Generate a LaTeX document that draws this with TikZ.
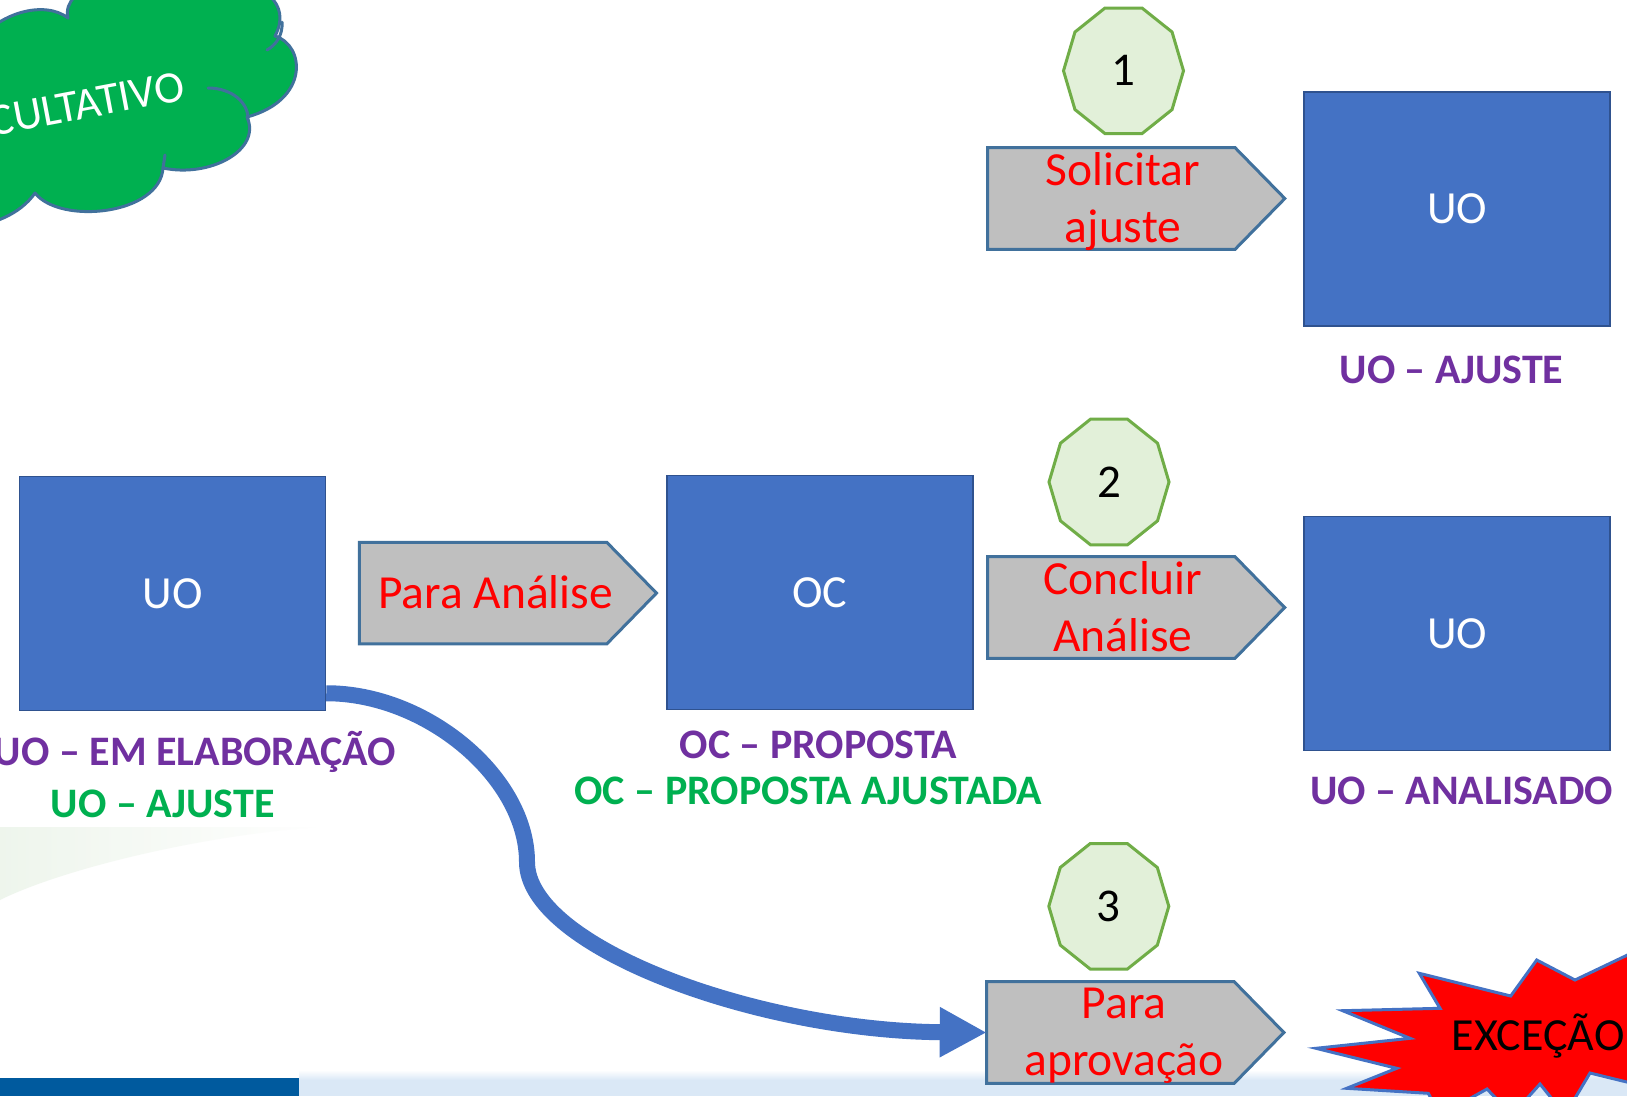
\documentclass[tikz,border=0pt]{standalone}
\usepackage{fontspec}
\setmainfont{Carlito}
\usetikzlibrary{arrows.meta}
\definecolor{boxblue}{HTML}{4472C4}
\definecolor{boxline}{HTML}{2F528F}
\definecolor{pentgray}{HTML}{BFBFBF}
\definecolor{pentline}{HTML}{41719C}
\definecolor{decafill}{HTML}{E2F0D9}
\definecolor{decaline}{HTML}{70AD47}
\definecolor{actred}{HTML}{FF0000}
\definecolor{lblpurple}{HTML}{7030A0}
\definecolor{lblgreen}{HTML}{00B050}
\definecolor{cloudgreen}{HTML}{00B050}
\definecolor{cloudline}{HTML}{41719C}
\definecolor{curveblue}{HTML}{4472C4}
\definecolor{bardark}{HTML}{005A9E}
\definecolor{barlight}{HTML}{DAE8F6}
\definecolor{burstline}{HTML}{4472C4}
\definecolor{wmgreen}{HTML}{E3EFE0}
\newcommand\mypent[3]{%
  \draw[pent] (#2,#3) -- ++(247.5,0) -- ++(49.7,50.8) -- ++(-49.7,50.8) -- ++(-247.5,0) -- cycle;
  \coordinate (#1) at (#2,#3+50.8);}
\newcommand\mydeca[4]{%
  \draw[deca] ({#2+60},#3) \foreach \k in {1,...,9}{ -- ({#2+60*cos(\k*36)},{#3+66*sin(\k*36)}) } -- cycle;
  \node[numtxt] (#1) at (#2,#3) {#4};}
\begin{document}
\begin{tikzpicture}[x=1pt,y=-1pt,
  box/.style={draw=boxline, fill=boxblue, line width=1.5pt, minimum width=306pt, minimum height=234pt, inner sep=0pt, text=white, font=\fontsize{46}{56}\selectfont},
  pent/.style={draw=pentline, fill=pentgray, line width=3pt, line join=miter},
  deca/.style={draw=decaline, fill=decafill, line width=3pt},
  numtxt/.style={font=\fontsize{47}{56}\selectfont, text=black, inner sep=0pt},
  acttxt/.style={font=\fontsize{47.5}{56.5}\selectfont, text=actred, inner sep=0pt, anchor=base},
  lbl/.style={font=\fontsize{42}{50}\selectfont\bfseries, inner sep=0pt, anchor=base},
  conn/.style={draw=curveblue, line width=16pt, -{Triangle[length=47pt,width=47pt]}},
  cloudshape/.style={fill=cloudgreen, draw=cloudline, line width=3pt, line join=round},
  cloudarc/.style={draw=cloudline, line width=3pt, line cap=round},
  burst/.style={fill=red, draw=burstline, line width=3pt, line join=miter}]
\useasboundingbox (0,0) rectangle (1627,1096);
\clip (0,0) rectangle (1627,1096);
\fill[white] (0,0) rectangle (1627,1096);
% faint watermark
\shade[left color=wmgreen, right color=white, opacity=0.6] (0,827) -- (321,827) .. controls (200,835) and (60,870) .. (0,900) -- cycle;
% bottom bars
\shade[top color=white, bottom color=barlight] (299,1070) rectangle (1627,1080);
\fill[barlight] (299,1080) rectangle (1627,1096);
\fill[bardark] (0,1078) rectangle (299,1096);
% cloud
\path[cloudshape] (-25,45) .. controls (-2,12) and (45,0) .. (68,18)
  .. controls (60,-15) and (130,-30) .. (138,-2)
  .. controls (150,-45) and (310,-30) .. (275,36)
  .. controls (305,45) and (310,100) .. (247,117)
  .. controls (262,150) and (210,178) .. (163,168)
  .. controls (160,215) and (60,225) .. (35,193)
  .. controls (20,215) and (-10,225) .. (-25,225) -- cycle;
\draw[cloudarc] (282,22) .. controls (283,35) and (276,45) .. (267,50);
\draw[cloudarc] (208,88) .. controls (232,88) and (249,103) .. (248,120);
\draw[cloudarc] (165,155) -- (163,168);
\node[font=\fontsize{45}{54}\selectfont, text=white, inner sep=0pt, anchor=base, rotate=10.7] (cloudtxt) at (68,122) {FACULTATIVO};
% boxes
\node[box] (uoTop) at (1457,209) {UO};
\node[box] (uoL) at (172.5,593.5) {UO};
\node[box] (oc) at (820,592.5) {OC};
\node[box] (uoR) at (1457,633.5) {UO};
% pentagons
\mypent{solW}{987.6}{147.7}
\mypent{anaW}{359.3}{542.3}
\mypent{concW}{987.5}{556.7}
\mypent{aprovW}{986.7}{981.7}
\node[acttxt] (solT) at (1123,185.5) {\begin{tabular}[t]{@{}c@{}}Solicitar\\ajuste\end{tabular}};
\node[acttxt] (anaT) at (495.5,608.5) {Para Análise};
\node[acttxt] (concT) at (1123,594.5) {\begin{tabular}[t]{@{}c@{}}Concluir\\Análise\end{tabular}};
\node[acttxt] (aprovT) at (1124,1018.5) {\begin{tabular}[t]{@{}c@{}}Para\\aprovação\end{tabular}};
% decagons
\mydeca{n1}{1123.5}{70.8}{1}
\mydeca{n2}{1109}{482}{2}
\mydeca{n3}{1108.8}{906.3}{3}
% labels
\node[lbl, text=lblpurple] (lblTop) at (1451.5,383) {UO – AJUSTE};
\node[lbl, text=lblpurple] (lblL1) at (195,765) {UO – EM ELABORAÇÃO};
\node[lbl, text=lblgreen] (lblL2) at (162.7,817.7) {UO – AJUSTE};
\node[lbl, text=lblpurple] (lblOC1) at (818.5,758.3) {OC – PROPOSTA};
\node[lbl, text=lblgreen] (lblOC2) at (808.5,804) {OC – PROPOSTA AJUSTADA};
\node[lbl, text=lblpurple] (lblR) at (1461.5,804) {UO – ANALISADO};
% curved connector
\coordinate (bendpt) at (527,862);
\draw[conn] ([yshift=18pt]uoL.south east) .. controls (426.5,693) and (527,777.5) .. (bendpt) .. controls (527,946.5) and (757,1031) .. (aprovW);
% starburst
\path[burst] (1680,930) -- (1575,980) -- (1536.7,960) -- (1510.7,996) -- (1419.3,973.3) -- (1440,1008.3)
  -- (1342.7,1010.7) -- (1410,1038.3) -- (1316,1048.3) -- (1396.7,1068.3) -- (1346.7,1088.3)
  -- (1428.3,1093.3) -- (1440,1115) -- (1487,1089) -- (1512,1115) -- (1540,1084) -- (1565,1115)
  -- (1590,1073) -- (1680,1095) -- cycle;
\node[font=\fontsize{46}{56}\selectfont, text=black, inner sep=0pt, anchor=base west] (exc) at (1451.7,1050.5) {EXCEÇÃO};
\end{tikzpicture}
\end{document}
